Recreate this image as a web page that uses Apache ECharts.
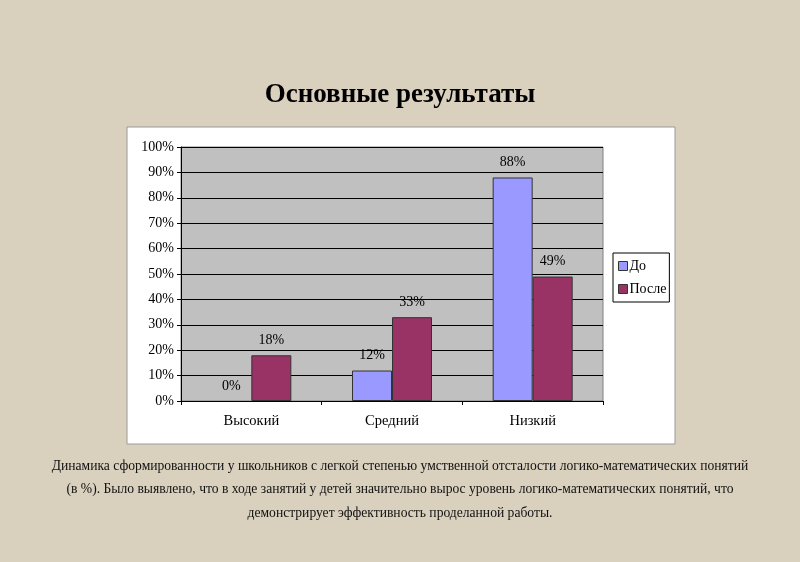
<!DOCTYPE html>
<html><head><meta charset="utf-8">
<script src="https://cdn.jsdelivr.net/npm/echarts@6/dist/echarts.min.js"></script>
<style>
html,body{margin:0;padding:0;background:#D9D0BE;}
#c{width:800px;height:562px;}
</style></head>
<body><div id="c"></div>
<script>
const titleText = 'Основные результаты';
const categories = ['Высокий', 'Средний', 'Низкий'];
const seriesNames = ['До', 'После'];
const beforeValues = [0, 12, 88];
const afterValues = [18, 33, 49];
const yTicks = [0, 10, 20, 30, 40, 50, 60, 70, 80, 90, 100];
const captionLines = [
  'Динамика сформированности у школьников с легкой степенью умственной отсталости логико-математических понятий',
  '(в %). Было выявлено, что в ходе занятий у детей значительно вырос уровень логико-математических понятий, что',
  'демонстрирует эффективность проделанной работы.'
];

const serif = '"Liberation Serif","DejaVu Serif",serif';
const chart = echarts.init(document.getElementById('c'), null, {renderer:'canvas'});
const labelStyle = {show:true, position:'top', distance:8, formatter:'{c}%', fontFamily:serif, fontSize:14, color:'#000'};
const toData = arr => arr.map(v => v === 0 ? {value:v, itemStyle:{borderWidth:0}} : v);
chart.setOption({
  backgroundColor:'#D9D0BE',
  animation:false,
  title:{text:titleText, left:'center', top:77, textStyle:{fontFamily:serif, fontSize:27, fontWeight:'bold', color:'#000'}},
  graphic:[
    {type:'rect', z:-10, shape:{x:127, y:127, width:548, height:317}, style:{fill:'#fff', stroke:'#9a9a9a', lineWidth:1}},
    ...captionLines.map((t,i)=>({type:'text', left:'center', top:459 + i*23.5, style:{text:t, font:'13.6px ' + serif, fill:'#111'}}))
  ],
  grid:{left:181, right:197, top:147, bottom:161, show:true, backgroundColor:'#C0C0C0', borderColor:'#808080', borderWidth:1},
  legend:{orient:'vertical', left:613, top:253, data:seriesNames, icon:'rect', itemWidth:9, itemHeight:9, itemGap:9,
    padding:[6,3,6,5], backgroundColor:'#fff', borderColor:'#000', borderWidth:1,
    itemStyle:{borderColor:'#333', borderWidth:1},
    textStyle:{fontFamily:serif, fontSize:14, color:'#000', padding:[0,0,0,-3]}},
  xAxis:{type:'category', data:categories,
    axisLine:{lineStyle:{color:'#000', width:1}}, axisTick:{show:true, length:4, lineStyle:{color:'#000'}},
    axisLabel:{fontFamily:serif, fontSize:14.5, color:'#000', margin:13}},
  yAxis:{type:'value', min:yTicks[0], max:yTicks[yTicks.length-1], interval:10,
    axisLine:{show:true, lineStyle:{color:'#000'}}, axisTick:{show:true, length:4, lineStyle:{color:'#000'}},
    axisLabel:{formatter:'{value}%', fontFamily:serif, fontSize:14, color:'#000', margin:7},
    splitLine:{lineStyle:{color:'#000', width:1}}},
  series:[
    {name:seriesNames[0], type:'bar', data:toData(beforeValues), barWidth:40, barGap:'0%',
      itemStyle:{color:'#9999FF', borderColor:'#333', borderWidth:1}, label:labelStyle},
    {name:seriesNames[1], type:'bar', data:toData(afterValues), barWidth:40, barGap:'0%',
      itemStyle:{color:'#993366', borderColor:'#333', borderWidth:1}, label:labelStyle}
  ]
});
</script></body></html>
